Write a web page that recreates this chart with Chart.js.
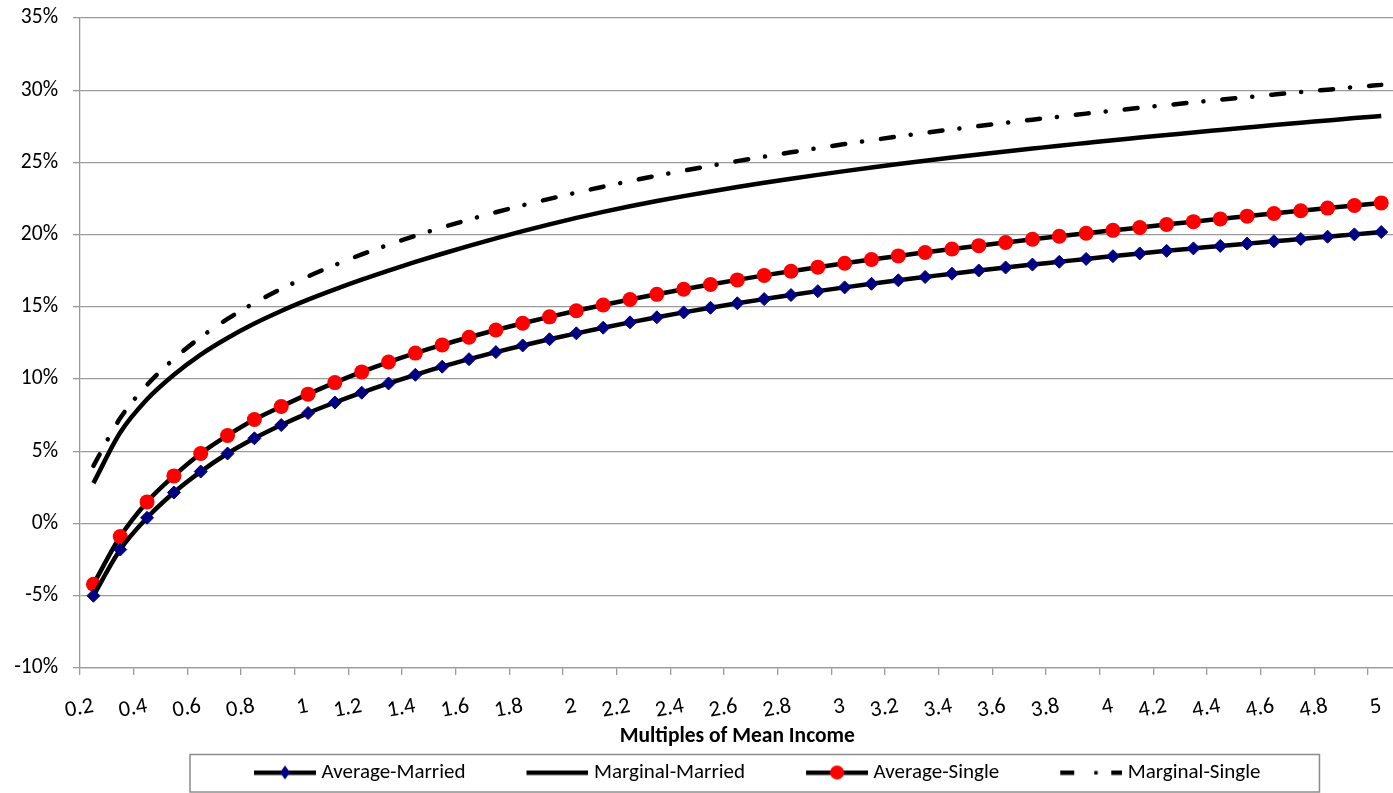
<!DOCTYPE html>
<html>
<head>
<meta charset="utf-8">
<script src="https://cdn.jsdelivr.net/npm/chart.js@4.4.0/dist/chart.umd.min.js"></script>
<style>
html, body { margin: 0; padding: 0; background: #fff; overflow: hidden; }
#wrap { width: 1404px; height: 793px; position: relative; }
</style>
</head>
<body>
<div id="wrap"><canvas id="myChart"></canvas></div>
<script>
const income_multiples = ['0.2','0.3','0.4','0.5','0.6','0.7','0.8','0.9',
    '1','1.1','1.2','1.3','1.4','1.5','1.6','1.7','1.8','1.9',
    '2','2.1','2.2','2.3','2.4','2.5','2.6','2.7','2.8','2.9',
    '3','3.1','3.2','3.3','3.4','3.5','3.6','3.7','3.8','3.9',
    '4','4.1','4.2','4.3','4.4','4.5','4.6','4.7','4.8','4.9','5']

// tax rates in percent
const average_married = [-5.0,-1.8,0.4,2.15,3.6,4.85,5.9,6.82,7.65,8.38,
    9.06,9.7,10.3,10.86,11.38,11.87,12.33,12.76,13.17,13.56,
    13.93,14.28,14.62,14.94,15.25,15.54,15.82,16.09,16.35,16.6,
    16.84,17.07,17.3,17.52,17.73,17.93,18.12,18.32,18.51,18.7,
    18.88,19.05,19.22,19.38,19.54,19.7,19.86,20.02,20.18]
const marginal_married = [2.8,6.3,8.6,10.3,11.7,12.85,13.85,14.72,15.5,16.21,
    16.88,17.51,18.11,18.68,19.22,19.74,20.24,20.71,21.16,21.58,
    21.97,22.33,22.67,22.99,23.3,23.59,23.87,24.14,24.4,24.65,
    24.89,25.12,25.34,25.55,25.76,25.96,26.16,26.35,26.54,26.72,
    26.9,27.08,27.25,27.42,27.59,27.75,27.91,28.07,28.22]
const average_single = [-4.2,-0.9,1.5,3.3,4.85,6.1,7.2,8.1,8.96,9.76,
    10.5,11.18,11.8,12.37,12.9,13.4,13.87,14.31,14.73,15.13,
    15.51,15.87,16.22,16.55,16.87,17.18,17.47,17.75,18.02,18.28,
    18.53,18.77,19.01,19.24,19.46,19.68,19.89,20.1,20.3,20.5,
    20.7,20.9,21.09,21.28,21.47,21.66,21.84,22.02,22.2]
const marginal_single = [4.0,7.3,9.6,11.4,12.9,14.17,15.27,16.24,17.11,17.9,
    18.63,19.3,19.92,20.5,21.04,21.55,22.03,22.48,22.91,23.32,
    23.71,24.08,24.43,24.77,25.09,25.4,25.7,25.99,26.27,26.54,
    26.8,27.05,27.29,27.52,27.74,27.96,28.17,28.38,28.58,28.78,
    28.97,29.16,29.34,29.52,29.7,29.87,30.04,30.21,30.37]

const FONT = 'Carlito, Lato, sans-serif'
const GRID = '#9a9a9a'
const DASH_DOT = [13, 17, 0.1, 19]
const SAMPLE_LEN = 62
const BOX_W = 110
const IMG_W = 120
const LEGEND_PAD = 8

// legend samples: a piece of line with the marker in the middle
function make_sample(marker, dash) {
    let c = document.createElement('canvas')
    c.width = IMG_W
    c.height = 18
    let g = c.getContext('2d')
    let x0 = IMG_W - SAMPLE_LEN
    g.fillStyle = '#000'
    if (dash) {
        // long dash, dot, long dash
        g.fillRect(x0, 7, 14, 4.5)
        g.fillRect(x0 + 34, 7.5, 3.5, 3.5)
        g.fillRect(x0 + 51, 7, 11, 4.5)
    } else {
        g.fillRect(x0, 7, SAMPLE_LEN, 4.5)
    }
    let cx = x0 + SAMPLE_LEN / 2
    if (marker == 'diamond') {
        g.fillStyle = '#000080'
        g.beginPath()
        g.moveTo(cx, 2); g.lineTo(cx + 5, 9); g.lineTo(cx, 16); g.lineTo(cx - 5, 9)
        g.closePath()
        g.fill()
    } else if (marker == 'circle') {
        g.fillStyle = '#ff0000'
        g.beginPath()
        g.arc(cx, 9, 7, 0, Math.PI * 2)
        g.fill()
    }
    return c
}

const samples = [
    make_sample('diamond', false),
    make_sample(null, false),
    make_sample('circle', false),
    make_sample(null, true)
]

const legend_box = {
    id: 'legend_box',
    afterLayout(chart) {
        let lg = chart.legend
        let w = lg.right - lg.left
        lg.left = 193
        lg.right = 193 + w
    },
    afterDraw(chart) {
        let hb = chart.legend.legendHitBoxes
        if (!hb || !hb.length) return
        let ctx = chart.ctx
        let first = hb[0]
        let last = hb[hb.length - 1]
        let left = first.left + BOX_W / 2 + IMG_W / 2 - SAMPLE_LEN - 64
        let right = last.left + last.width + 59
        ctx.save()
        ctx.strokeStyle = '#8c8c8c'
        ctx.lineWidth = 1.5
        ctx.strokeRect(left, chart.legend.top + 0.5, right - left, chart.legend.bottom - chart.legend.top - 1.5)
        ctx.restore()
    }
}

let data = {
    labels: income_multiples,
    datasets: [{
        label: 'Average-Married',
        data: average_married,
        borderColor: '#000',
        borderWidth: 4.5,
        cubicInterpolationMode: 'monotone',
        pointStyle: 'rectRot',
        pointRadius: 6.5,
        pointBackgroundColor: '#000080',
        pointBorderColor: '#000080',
        pointBorderWidth: 1
    }, {
        label: 'Marginal-Married',
        data: marginal_married,
        borderColor: '#000',
        borderWidth: 4.5,
        cubicInterpolationMode: 'monotone',
        pointRadius: 0
    }, {
        label: 'Average-Single',
        data: average_single,
        borderColor: '#000',
        borderWidth: 4.5,
        cubicInterpolationMode: 'monotone',
        pointStyle: 'circle',
        pointRadius: 7.5,
        pointBackgroundColor: '#ff0000',
        pointBorderColor: '#ff0000',
        pointBorderWidth: 0
    }, {
        label: 'Marginal-Single',
        data: marginal_single,
        borderColor: '#000',
        borderWidth: 4.5,
        borderDash: DASH_DOT,
        borderCapStyle: 'round',
        cubicInterpolationMode: 'monotone',
        pointRadius: 0
    }]
}

let config = {
    type: 'line',
    data: data,
    options: {
        responsive: true,
        maintainAspectRatio: false,
        animation: false,
        layout: { padding: { top: 18, right: 1, left: 0, bottom: 0 } },
        plugins: {
            tooltip: { enabled: false },
            legend: {
                position: 'bottom',
                align: 'start',
                labels: {
                    usePointStyle: true,
                    pointStyleWidth: BOX_W,
                    padding: LEGEND_PAD,
                    color: '#000',
                    font: { family: FONT, size: 21 },
                    generateLabels: chart => chart.data.datasets.map((ds, i) => ({
                        text: ds.label,
                        pointStyle: samples[i],
                        datasetIndex: i,
                        fillStyle: 'rgba(0,0,0,0)',
                        strokeStyle: 'rgba(0,0,0,0)',
                        lineWidth: 0,
                        hidden: false,
                        fontColor: '#000'
                    }))
                }
            }
        },
        scales: {
            x: {
                offset: true,
                afterFit: scale => { scale.height = 86 },
                grid: {
                    offset: true,
                    drawOnChartArea: false,
                    tickLength: 7,
                    lineWidth: 1.3,
                    color: ctx => ctx.index % 2 === 0 ? GRID : 'rgba(0,0,0,0)'
                },
                border: { display: true, color: GRID, width: 1.3 },
                ticks: {
                    autoSkip: false,
                    minRotation: 10,
                    maxRotation: 10,
                    padding: 18,
                    color: '#000',
                    font: { family: FONT, size: 22.5 },
                    callback: function(value, index) {
                        return index % 2 === 0 ? this.getLabelForValue(value) : ''
                    }
                },
                title: {
                    display: true,
                    text: 'Multiples of Mean Income',
                    color: '#000',
                    font: { family: FONT, size: 21.5, weight: 'bold' },
                    padding: { top: 0, bottom: 4 }
                }
            },
            y: {
                min: -10,
                max: 35,
                afterFit: scale => {
                    scale.width = 80
                    scale.paddingTop = 0
                    scale.paddingBottom = 0
                },
                grid: { color: GRID, lineWidth: 1.3, tickLength: 7 },
                border: { display: true, color: GRID, width: 1.3 },
                ticks: {
                    stepSize: 5,
                    padding: 15,
                    color: '#000',
                    font: { family: FONT, size: 21.5 },
                    callback: v => `${v}%`
                }
            }
        }
    },
    plugins: [legend_box]
}

let myChart = new Chart(document.getElementById('myChart'), config)
</script>
</body>
</html>
